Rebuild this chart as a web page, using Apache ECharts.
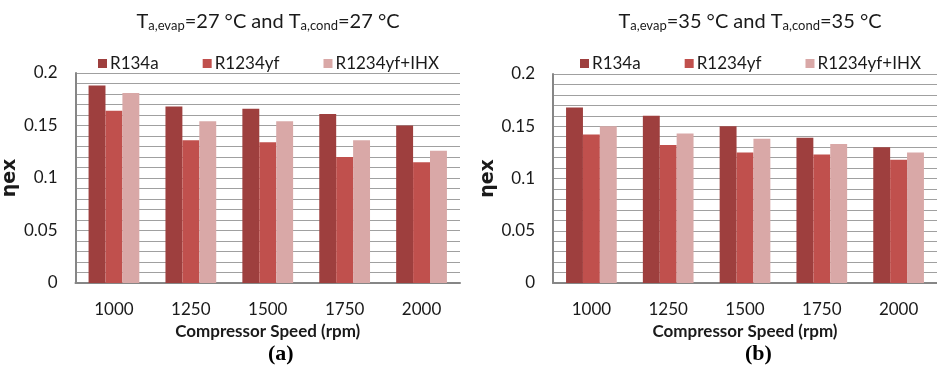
<!DOCTYPE html>
<html>
<head>
<meta charset="utf-8">
<script src="https://cdn.jsdelivr.net/npm/echarts@6/dist/echarts.min.js"></script>
<style>
  html, body { margin: 0; padding: 0; background: #fff; }
  #chart { width: 937px; height: 369px; }
</style>
</head>
<body>
<div id="chart"></div>
<script>
// 数据
const speeds = ['1000', '1250', '1500', '1750', '2000']
const seriesNames = ['R134a', 'R1234yf', 'R1234yf+IHX']
const colors = ['#9e3f3e', '#c0504d', '#d9a8a7']

// (a) 27 °C
const r134aA = [0.188, 0.168, 0.166, 0.161, 0.150]
const r1234yfA = [0.164, 0.136, 0.134, 0.120, 0.115]
const ihxA = [0.181, 0.154, 0.154, 0.136, 0.126]

// (b) 35 °C
const r134aB = [0.168, 0.160, 0.150, 0.139, 0.130]
const r1234yfB = [0.142, 0.132, 0.125, 0.123, 0.118]
const ihxB = [0.150, 0.143, 0.138, 0.133, 0.125]

const FONT = 'Lato'
const TXT = '#1a1a1a'

const titleRich = {
  n: { fontSize: 20, fontWeight: 'normal', fontFamily: FONT, color: TXT },
  s: { fontSize: 13, fontWeight: 'normal', fontFamily: FONT, color: TXT, verticalAlign: 'bottom', padding: [8, 0, 0, 0] },
}

function makeTitle(t, cx) {
  return {
    text: `{n|T}{s|a,evap}{n|=${t} °C and T}{s|a,cond}{n|=${t} °C}`,
    left: cx,
    top: 6,
    textAlign: 'center',
    textStyle: { fontWeight: 'normal', rich: titleRich },
  }
}

function makeLegend(left) {
  return {
    data: seriesNames,
    left: left,
    top: 50,
    itemWidth: 9,
    itemHeight: 9,
    itemGap: 44,
    icon: 'rect',
    selectedMode: false,
    textStyle: { fontSize: 17, fontFamily: FONT, color: TXT, padding: [0, 0, 0, -2] },
  }
}

function makeX(gridIndex) {
  return {
    type: 'category',
    gridIndex,
    data: speeds,
    name: 'Compressor Speed (rpm)',
    nameLocation: 'middle',
    nameGap: 37,
    nameTextStyle: { fontSize: 17, fontWeight: 'bold', fontFamily: FONT, color: TXT },
    axisLine: { lineStyle: { color: '#868686', width: 2 } },
    axisTick: { show: false },
    axisLabel: { fontSize: 17, fontFamily: FONT, color: TXT, margin: 18 },
  }
}

function makeY(gridIndex) {
  return {
    type: 'value',
    gridIndex,
    min: 0,
    max: 0.2,
    interval: 0.05,
    name: 'ηex',
    nameLocation: 'middle',
    nameGap: 43,
    nameTextStyle: { fontSize: 19, fontWeight: 'bold', fontFamily: 'DejaVu Sans', color: TXT },
    axisLine: { show: true, lineStyle: { color: '#868686', width: 2 } },
    axisTick: { show: false },
    axisLabel: {
      fontSize: 17,
      fontFamily: FONT,
      color: TXT,
      margin: 18,
      formatter: (v) => (v === 0 ? '0' : String(+v.toFixed(2))),
    },
    splitLine: { show: true, lineStyle: { color: '#a0a0a0', width: 1 } },
    minorTick: { show: false, splitNumber: 5 },
    minorSplitLine: { show: true, lineStyle: { color: '#a0a0a0', width: 1 } },
  }
}

function bars(idx, values, k) {
  return {
    name: seriesNames[k],
    type: 'bar',
    xAxisIndex: idx,
    yAxisIndex: idx,
    barGap: '0%',
    barCategoryGap: '34%',
    itemStyle: { color: colors[k] },
    data: values,
  }
}

const option = {
  animation: false,
  color: colors,
  title: [makeTitle(27, 263), makeTitle(35, 745)],
  legend: [makeLegend(93), makeLegend(575)],
  grid: [
    { left: 70, top: 73, width: 390, height: 210 },
    { left: 553, top: 74, width: 392, height: 209 },
  ],
  xAxis: [makeX(0), makeX(1)],
  yAxis: [makeY(0), makeY(1)],
  series: [
    bars(0, r134aA, 0),
    bars(0, r1234yfA, 1),
    bars(0, ihxA, 2),
    bars(1, r134aB, 0),
    bars(1, r1234yfB, 1),
    bars(1, ihxB, 2),
  ],
  graphic: [
    {
      type: 'text', left: 283 - 15, top: 343,
      style: { text: '(a)', font: 'bold 22px "Liberation Serif"', fill: '#000' },
    },
    {
      type: 'text', left: 760 - 15, top: 343,
      style: { text: '(b)', font: 'bold 22px "Liberation Serif"', fill: '#000' },
    },
  ],
}

let myChart = echarts.init(document.getElementById('chart')) //初始化
myChart.setOption(option)
</script>
</body>
</html>
